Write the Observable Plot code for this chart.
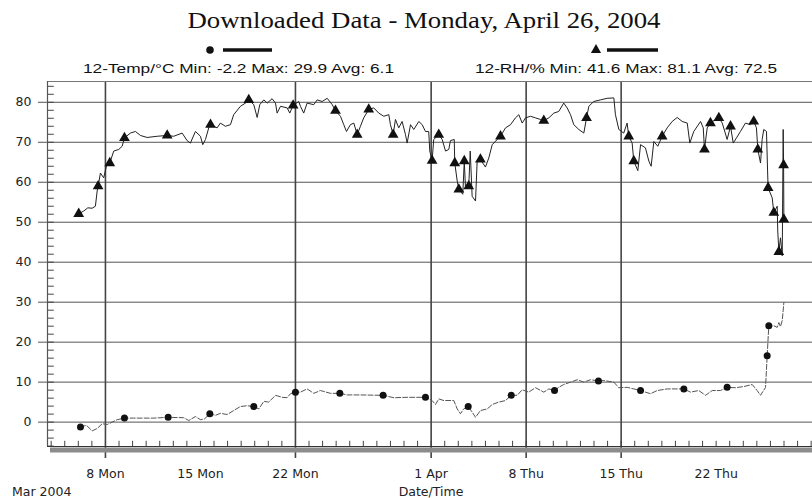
<!DOCTYPE html>
<html><head><meta charset="utf-8">
<script src="https://cdn.jsdelivr.net/npm/d3@7"></script>
<script src="https://cdn.jsdelivr.net/npm/@observablehq/plot@0.6"></script>
<style>body{margin:0;background:#fff;} svg{display:block}</style>
</head><body><div id="chart"></div>
<script>
const titleText = "Downloaded Data - Monday, April 26, 2004";
const tempLegend = "12-Temp/°C Min: -2.2 Max: 29.9 Avg: 6.1";
const rhLegend = "12-RH/% Min: 41.6 Max: 81.1 Avg: 72.5";
const xAxisTitle = "Date/Time";
const yearLabel = "Mar 2004";

// time as day-of-March (1 Apr = 32)
const rhDays = [6.03,6.40,6.70,7.02,7.26,7.39,7.46,7.63,7.87,8.07,8.32,8.61,8.98,9.23,9.40,9.84,10.21,10.58,11.07,11.81,12.55,13.03,13.65,14.02,14.26,14.63,15.00,15.17,15.37,15.61,15.74,16.23,16.47,16.84,17.21,17.45,17.95,18.32,18.56,18.93,19.18,19.37,19.67,19.92,20.28,20.53,20.65,20.90,21.39,21.58,21.83,22.24,22.37,22.61,22.86,23.35,23.60,23.97,24.34,24.71,24.95,25.32,25.56,25.76,26.05,26.30,26.55,26.79,27.03,27.40,27.77,28.14,28.51,28.88,29.00,29.20,29.37,29.61,29.86,30.11,30.23,30.48,30.72,31.09,31.34,31.58,31.82,31.90,32.07,32.19,32.56,32.81,33.06,33.30,33.42,33.70,33.74,33.92,34.04,34.33,34.44,34.53,34.77,34.88,35.02,35.27,35.39,35.63,36.00,36.25,36.50,36.87,37.11,37.48,37.85,38.21,38.46,38.71,38.95,39.32,39.69,40.06,40.30,40.67,41.04,41.40,41.77,42.02,42.27,42.51,42.88,43.25,43.45,43.62,43.98,44.48,44.97,45.46,45.58,45.83,46.19,46.44,46.56,46.81,46.93,47.23,47.43,47.79,48.04,48.21,48.41,48.70,49.02,49.39,49.76,50.13,50.50,50.87,51.06,51.35,51.85,52.05,52.14,52.34,52.58,52.95,53.20,53.45,53.81,54.06,54.26,54.50,54.79,55.16,55.53,55.77,55.97,56.07,56.27,56.39,56.51,56.71,56.79,56.83,57.13,57.25,57.50,57.54,57.62,57.74,57.87,57.94,57.97,57.99];
const rhValues = [52.1,52.8,53.6,53.5,54.0,57.8,59.0,62.3,61.1,64.0,64.8,67.8,68.2,69.0,71.1,72.3,72.7,71.7,71.2,71.5,71.7,71.5,72.3,70.4,69.8,72.7,71.5,69.4,70.7,73.6,74.4,73.6,74.8,74.0,74.4,76.9,79.0,79.8,80.6,79.4,76.2,79.4,80.6,79.8,80.9,79.8,77.3,79.0,78.6,77.3,79.2,80.2,79.0,77.3,79.8,79.4,80.6,80.2,81.0,79.4,77.9,76.5,74.4,72.7,74.4,74.8,71.9,74.0,76.1,78.2,78.6,77.3,76.5,76.9,74.4,71.9,75.7,73.6,75.2,71.9,69.8,74.4,73.2,75.2,74.4,72.7,72.7,67.8,65.4,70.7,71.9,70.7,67.8,68.2,70.4,70.7,64.8,60.3,58.2,57.0,65.3,58.6,59.0,67.8,56.5,55.3,65.3,65.7,63.8,66.1,69.4,70.7,71.5,73.6,74.4,76.1,76.9,74.8,76.1,76.5,76.1,75.7,75.4,76.1,77.3,77.7,79.8,78.6,76.9,74.4,73.2,72.3,76.1,79.0,80.2,80.6,81.0,81.1,76.9,73.2,72.3,74.8,71.5,69.8,65.3,62.9,69.4,68.6,65.3,64.0,70.2,69.0,71.5,73.6,75.2,76.2,75.2,74.8,69.8,72.7,75.2,73.6,68.2,73.6,74.8,75.7,76.1,74.8,70.7,74.0,69.8,71.1,72.7,74.8,74.4,75.2,73.6,68.2,64.8,70.7,73.2,72.7,62.8,58.6,56.1,52.4,54.0,47.8,42.6,46.1,41.6,73.2,64.3,50.7];
const rhMarkerDays = [6.03,7.46,8.32,9.40,12.55,15.74,18.56,21.83,24.95,26.55,27.40,29.20,32.07,32.56,33.74,34.04,34.44,34.77,35.63,37.11,40.30,43.45,46.56,46.93,49.02,52.14,52.58,53.20,54.06,55.77,56.07,56.83,57.25,57.62,57.97,57.99];
const rhMarkerValues = [52.1,59.0,64.8,71.1,71.7,74.4,80.6,79.2,77.9,71.9,78.2,71.9,65.4,71.9,64.8,58.2,65.3,59.0,65.7,71.5,75.4,76.1,71.5,65.3,71.5,68.2,74.8,76.1,74.0,75.2,68.2,58.6,52.4,42.6,64.3,50.7];

const tempDays = [6.16,6.60,7.02,7.39,7.76,8.13,8.49,8.86,9.40,10.09,11.56,12.62,13.77,14.14,14.63,15.00,15.30,15.69,16.11,16.47,16.97,17.45,17.95,18.44,18.93,19.30,19.67,20.03,20.53,21.02,21.39,21.63,22.00,22.37,22.86,23.35,23.84,24.58,25.27,25.81,26.79,28.46,29.25,30.23,31.58,32.07,32.32,32.56,32.93,33.67,33.92,34.16,34.40,34.73,35.02,35.27,35.63,36.13,36.50,36.98,37.48,37.90,38.34,38.71,39.19,39.69,40.30,40.67,41.09,41.40,41.77,42.27,42.76,43.25,43.74,44.33,44.72,45.46,45.83,46.44,46.93,47.43,48.16,48.66,49.39,50.13,50.62,51.11,51.72,52.22,52.71,53.32,53.81,54.43,55.04,55.66,56.02,56.27,56.64,56.76,56.88,57.25,57.50,57.62,57.74,57.87,57.99];
const tempValues = [-1.2,-0.8,-2.2,-1.6,-0.4,-0.6,0.0,0.6,1.0,1.0,1.0,1.2,1.1,0.4,1.4,0.6,0.8,2.1,1.7,2.2,1.9,2.9,3.9,4.1,3.9,3.3,5.2,5.0,6.7,6.2,6.1,7.1,7.5,7.5,8.3,7.2,7.9,7.2,7.2,6.8,6.8,6.7,6.1,6.2,6.2,5.4,4.4,5.8,5.4,5.4,3.3,2.1,3.3,3.9,2.5,1.2,2.9,3.3,4.4,5.0,5.4,6.7,6.7,8.1,7.5,8.6,7.5,8.3,7.9,8.7,9.4,10.0,10.6,10.0,10.6,10.3,10.4,10.0,8.6,8.7,8.3,7.9,7.1,7.9,8.3,8.3,8.3,7.5,7.9,6.7,7.9,7.9,8.7,8.6,8.9,9.4,7.9,6.7,8.7,16.6,24.1,24.1,23.7,24.9,23.9,25.4,29.9];
const tempMarkerDays = [6.16,9.40,12.62,15.69,18.93,22.00,25.27,28.46,31.58,34.73,37.90,41.09,44.33,47.43,50.62,53.81,56.76,56.88];
const tempMarkerValues = [-1.2,1.0,1.2,2.1,3.9,7.5,7.2,6.7,6.2,3.9,6.7,7.9,10.3,7.9,8.3,8.7,16.6,24.1];

const yTicks = [0,10,20,30,40,50,60,70,80];
const xTickDays = [8,15,22,32,39,46,53];
const xTickLabels = ["8 Mon","15 Mon","22 Mon","1 Apr","8 Thu","15 Thu","22 Thu"];
const xGridDays = [8,22,32,39,46];
const xDomainDays = [3.73, 60.1];
const yDomain = [-6.1, 85.2];

const toDate = d => new Date(Date.UTC(2004, 2, 1) + (d - 1) * 864e5);
const rh = rhDays.map((d, i) => ({t: toDate(d), v: rhValues[i]}));
const temp = tempDays.map((d, i) => ({t: toDate(d), v: tempValues[i]}));
const rhMarks = rhMarkerDays.map((d, i) => ({t: toDate(d), v: rhMarkerValues[i]}));
const tempMarks = tempMarkerDays.map((d, i) => ({t: toDate(d), v: tempMarkerValues[i]}));
const xLabelMap = new Map(xTickDays.map((d, i) => [+toDate(d), xTickLabels[i]]));
const dailyDates = d3.range(Math.ceil(xDomainDays[0]), Math.floor(xDomainDays[1]) + 1).map(toDate);
const yMinor = d3.range(-6, 85, 2);
const [yMin, yMax] = yDomain;
const xMin = toDate(xDomainDays[0]);

const plot = Plot.plot({
  width: 812, height: 498,
  marginTop: 81, marginBottom: 52, marginLeft: 47, marginRight: 0,
  x: {type: "utc", domain: xDomainDays.map(toDate), label: null},
  y: {domain: yDomain, label: null},
  style: {fontFamily: "'DejaVu Sans', sans-serif", fontSize: "12.5px", color: "#222", background: "#fff"},
  marks: [
    Plot.ruleY(yTicks, {stroke: "#555", strokeWidth: 1, insetLeft: -9}),
    Plot.ruleX(xGridDays.map(toDate), {stroke: "#444", strokeWidth: 1.6, insetBottom: -12}),
    Plot.ruleY(yMinor, {x1: xMin, x2: toDate(xDomainDays[0] + 0.5), stroke: "#444"}),
    Plot.ruleX(dailyDates, {y1: yMin, y2: yMin + 1.3, stroke: "#444"}),
    Plot.ruleY([yMin], {dy: 3.5, stroke: "#8c8c8c", strokeWidth: 5, insetLeft: 3}),
    Plot.ruleY([yMin], {stroke: "#333", strokeWidth: 1.2}),
    Plot.ruleY([yMax], {stroke: "#777"}),
    Plot.ruleX([xMin], {stroke: "#555", strokeWidth: 1.2}),
    Plot.line(temp, {x: "t", y: "v", stroke: "#555", strokeWidth: 1, strokeDasharray: "5,2"}),
    Plot.line(rh, {x: "t", y: "v", stroke: "#222", strokeWidth: 1}),
    Plot.dot(tempMarks, {x: "t", y: "v", r: 3.5, fill: "#111", stroke: "none"}),
    Plot.dot(rhMarks, {x: "t", y: "v", r: 4, symbol: "triangle", fill: "#111", stroke: "none"}),
    Plot.axisY({ticks: yTicks, tickSize: 0, tickPadding: 16, label: null}),
    Plot.axisX({ticks: xTickDays.map(toDate), tickSize: 0, tickPadding: 23, label: null,
      tickFormat: d => xLabelMap.get(+d)})
  ]
});
document.getElementById("chart").appendChild(plot);

const svg = d3.select(plot);
svg.append("text").attr("x", 424).attr("y", 28).attr("text-anchor", "middle")
  .attr("font-family", "'Liberation Serif', serif").attr("font-size", 24).attr("fill", "#111")
  .attr("textLength", 473).attr("lengthAdjust", "spacingAndGlyphs").text(titleText);
const legend = [
  {text: tempLegend, cx: 238.5, w: 311, mx: 210, l1: 223, l2: 272, sym: d3.symbolCircle},
  {text: rhLegend, cx: 626, w: 302, mx: 596, l1: 607, l2: 658, sym: d3.symbolTriangle}
];
for (const g of legend) {
  svg.append("text").attr("x", g.cx).attr("y", 73).attr("text-anchor", "middle")
    .attr("font-family", "'Liberation Sans', sans-serif").attr("font-size", 12.5).attr("fill", "#111")
    .attr("textLength", g.w).attr("lengthAdjust", "spacingAndGlyphs").text(g.text);
  svg.append("path").attr("transform", `translate(${g.mx},50)`).attr("d", d3.symbol(g.sym, 45)()).attr("fill", "#111");
  svg.append("line").attr("x1", g.l1).attr("x2", g.l2).attr("y1", 50).attr("y2", 50).attr("stroke", "#111").attr("stroke-width", 3.5);
}
svg.append("text").attr("x", 12).attr("y", 496).attr("text-anchor", "start").attr("font-size", 12.5).attr("fill", "#222").text(yearLabel);
svg.append("text").attr("x", 431).attr("y", 496).attr("text-anchor", "middle").attr("font-size", 12.5).attr("fill", "#222").text(xAxisTitle);
</script>
</body></html>
